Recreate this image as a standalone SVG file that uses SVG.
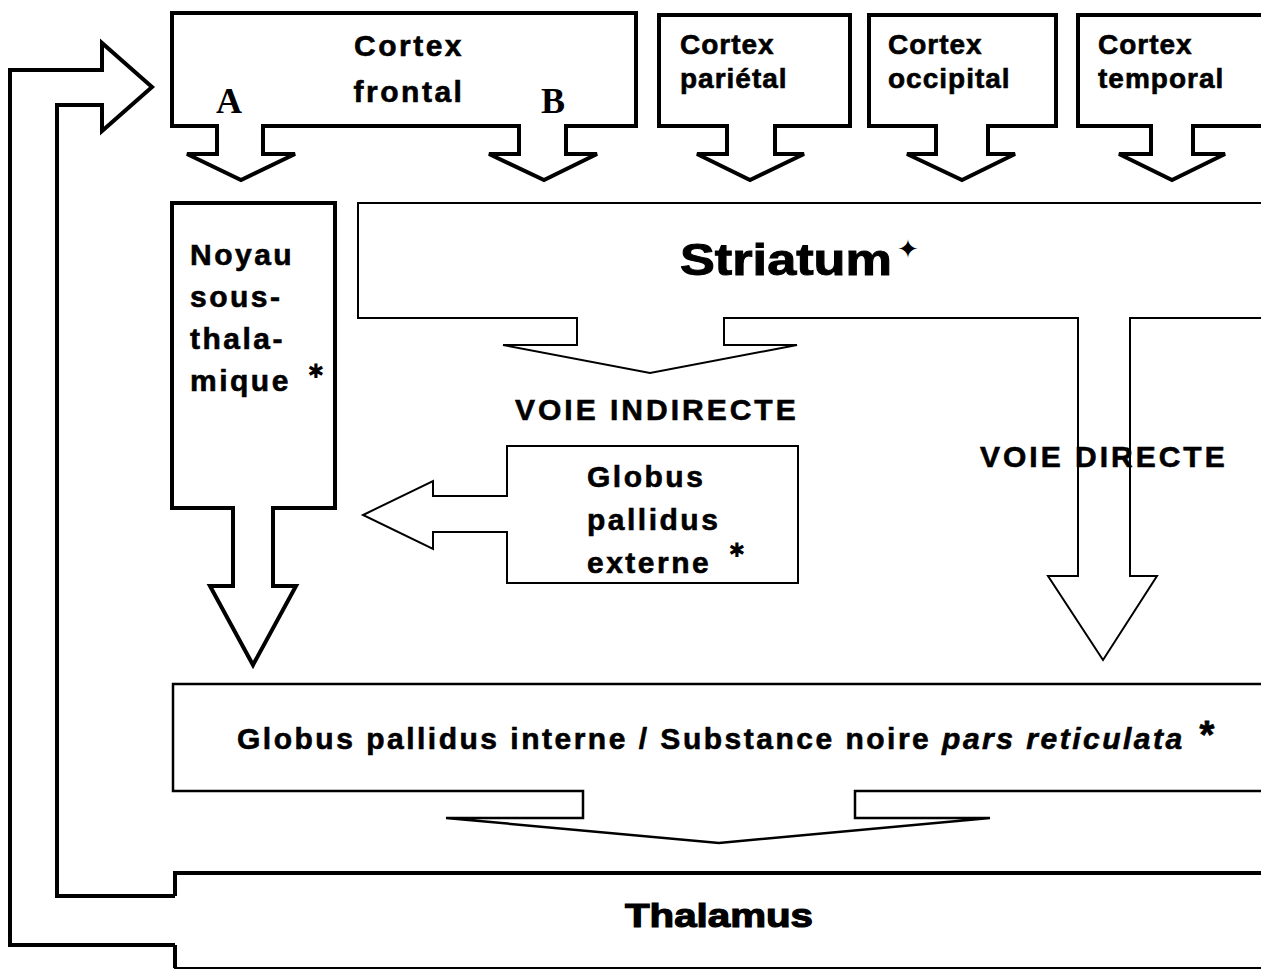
<svg xmlns="http://www.w3.org/2000/svg" width="1261" height="971" viewBox="0 0 1261 971">
<style>
.thick{fill:none;stroke:#000;stroke-width:4;stroke-linejoin:miter}
.thin{fill:none;stroke:#000;stroke-width:2;stroke-linejoin:miter}
.t{font-family:"Liberation Sans",Arial,sans-serif;font-weight:bold;fill:#000;stroke:#000;stroke-width:0.6;font-size:30px;letter-spacing:2.5px}
.tc{font-family:"Liberation Sans",Arial,sans-serif;font-weight:bold;fill:#000;stroke:#000;stroke-width:0.6;font-size:28px;letter-spacing:1px}
.ab{font-family:"Liberation Serif","Times New Roman",serif;font-weight:bold;font-size:36px;fill:#000}
.ast{font-family:"DejaVu Sans",sans-serif;font-size:20px;fill:#000}
</style>
<rect width="1261" height="971" fill="#fff"/>
<g id="connectors">
  <path id="feedback" class="thick" d="M175 945 H10 V70 H102 V43 L152 87 L102 131 V105 H57 V896 H175"/>
</g>
<g id="cortex-frontal">
  <path class="thick" d="M172 13 H636 V126 H566 V154 H597 L544 180 L489 154 H519 V126 H263 V154 H295 L241 180 L187 154 H217 V126 H172 Z"/>
  <text class="t" x="409" y="56" text-anchor="middle">Cortex</text>
  <text class="t" x="409" y="102" text-anchor="middle">frontal</text>
  <text class="ab" x="229" y="113" text-anchor="middle">A</text>
  <text class="ab" x="553" y="113" text-anchor="middle">B</text>
</g>
<g id="cortex-parietal">
  <path class="thick" d="M659 15 H850 V126 H775 V154 H804 L750 180 L697 154 H727 V126 H659 Z"/>
  <text class="tc" x="680" y="54">Cortex</text>
  <text class="tc" x="680" y="88">pariétal</text>
</g>
<g id="cortex-occipital">
  <path class="thick" d="M869 15 H1056 V126 H988 V154 H1015 L962 180 L907 154 H936 V126 H869 Z"/>
  <text class="tc" x="888" y="54">Cortex</text>
  <text class="tc" x="888" y="88">occipital</text>
</g>
<g id="cortex-temporal">
  <path class="thick" d="M1265 15 H1078 V126 H1151 V154 H1119 L1172 180 L1225 154 H1193 V126 H1265"/>
  <text class="tc" x="1098" y="54">Cortex</text>
  <text class="tc" x="1098" y="88">temporal</text>
</g>
<g id="noyau-sous-thalamique">
  <path class="thick" d="M172 203 H335 V508 H273 V586 H296 L253 665 L210 586 H233 V508 H172 Z"/>
  <text class="t" x="190" y="265">Noyau</text>
  <text class="t" x="190" y="307">sous-</text>
  <text class="t" x="190" y="349">thala-</text>
  <text class="t" x="190" y="391">mique</text>
  <text class="ast" x="316" y="378" text-anchor="middle">✱</text>
</g>
<g id="striatum">
  <path class="thin" d="M1265 203 H358 V318 H577 V345 H503 L650 373 L797 345 H724 V318 H1078 V576 H1048 L1103 660 L1157 576 H1130 V318 H1265"/>
  <text class="t" x="680" y="275" textLength="212" lengthAdjust="spacingAndGlyphs" style="font-size:45px;letter-spacing:0;stroke-width:1">Striatum</text>
  <text x="908" y="258" text-anchor="middle" style="font-family:'DejaVu Sans',sans-serif;font-size:26px">✦</text>
  <text class="t" x="515" y="420" style="letter-spacing:3px">VOIE INDIRECTE</text>
  <text class="t" x="980" y="467" style="letter-spacing:3px">VOIE DIRECTE</text>
</g>
<g id="globus-pallidus-externe">
  <path class="thin" d="M507 446 H798 V583 H507 V532 H433 V549 L363 515 L433 481 V496 H507 Z"/>
  <text class="t" x="587" y="487">Globus</text>
  <text class="t" x="587" y="530">pallidus</text>
  <text class="t" x="587" y="573">externe</text>
  <text class="ast" x="737" y="557" text-anchor="middle">✱</text>
</g>
<g id="globus-pallidus-interne">
  <path class="thin" style="stroke-width:2.5" d="M1265 684 H173 V791 H583 V818 H446 L719 843 L990 818 H855 V791 H1265"/>
  <text class="t" x="237" y="749">Globus pallidus interne / Substance noire <tspan font-style="italic">pars reticulata</tspan></text>
  <text x="1207" y="748" text-anchor="middle" style="font-family:'Liberation Sans',sans-serif;font-weight:bold;font-size:38px;stroke:#000;stroke-width:0.8">*</text>
</g>
<g id="thalamus">
  <path class="thick" d="M175 896 V873 H1265"/>
  <path class="thin" d="M175 945 V968 H1265"/>
  <path class="thick" d="M175 945 V968"/>
  <text x="625" y="927" textLength="188" lengthAdjust="spacingAndGlyphs" style="font-family:'Liberation Sans',sans-serif;font-weight:bold;font-size:34px;stroke:#000;stroke-width:1.2">Thalamus</text>
</g>
</svg>
